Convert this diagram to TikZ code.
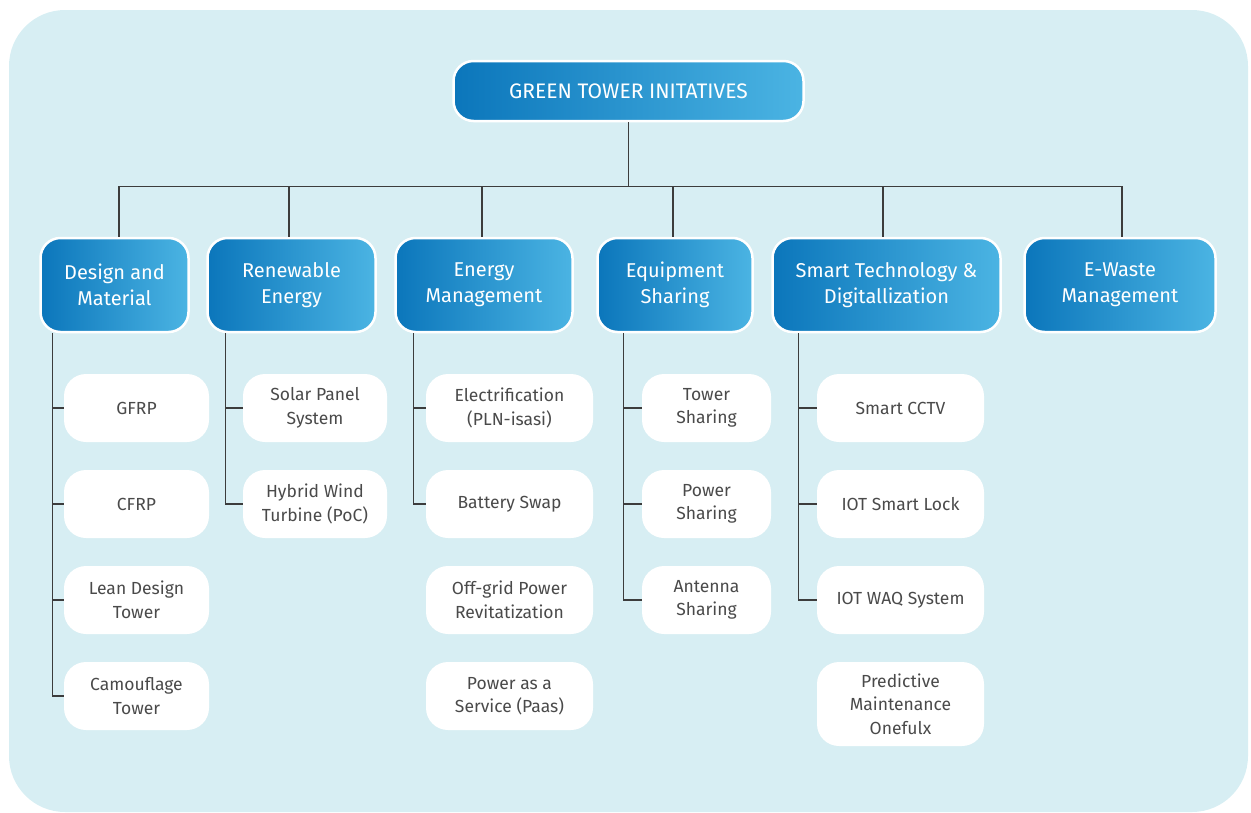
\documentclass[tikz,border=0pt]{standalone}
\usepackage{fontspec}
\setmainfont{Fira Sans}
\usetikzlibrary{calc}
\definecolor{bg}{HTML}{D7EEF3}
\definecolor{gL}{HTML}{0B76BB}
\definecolor{gR}{HTML}{4BB4E3}
\definecolor{txt}{HTML}{4A4A4A}
\definecolor{ln}{HTML}{3C3C3C}
\begin{document}
\begin{tikzpicture}[x=1pt,y=-1pt,
  topbox/.style={rounded corners=20pt, left color=gL, right color=gR, draw=white, line width=2.5pt, text=white, align=center, inner sep=0pt, font=\fontsize{21}{24}\selectfont},
  catbox/.style={topbox, minimum height=94pt, font=\fontsize{20}{26}\selectfont},
  subbox/.style={rounded corners=22pt, fill=white, text=txt, align=center, inner sep=0pt, minimum height=68pt, font=\fontsize{17.5}{23.5}\selectfont},
  conn/.style={draw=ln, line width=1.2pt}]
\useasboundingbox (0,0) rectangle (1251,812);
\fill[bg, rounded corners=56pt] (9,10) rectangle (1248,812);

\node[topbox, minimum width=350pt, minimum height=60pt] (top) at (628.5,91) {GREEN TOWER INITATIVES};

\node[catbox, minimum width=148pt] (c1) at (114.5,285) {Design and\\Material};
\node[catbox, minimum width=168pt] (c2) at (291.5,285) {Renewable\\Energy};
\node[catbox, minimum width=177pt] (c3) at (484,285) {Energy\\Management};
\node[catbox, minimum width=155pt] (c4) at (675,285) {Equipment\\Sharing};
\node[catbox, minimum width=228pt] (c5) at (886.5,285) {Smart Technology \&\\Digitallization};
\node[catbox, minimum width=191pt] (c6) at (1120,285) {E-Waste\\Management};

% column 1
\node[subbox, minimum width=145pt] (s11) at (136.5,408) {GFRP};
\node[subbox, minimum width=145pt] (s12) at (136.5,504) {CFRP};
\node[subbox, minimum width=145pt] (s13) at (136.5,600) {Lean Design\\Tower};
\node[subbox, minimum width=145pt] (s14) at (136.5,696) {Camouflage\\Tower};
% column 2
\node[subbox, minimum width=144pt] (s21) at (315,408) {Solar Panel\\System};
\node[subbox, minimum width=144pt] (s22) at (315,504) {Hybrid Wind\\Turbine (PoC)};
% column 3
\node[subbox, minimum width=167pt] (s31) at (509.5,408) {Electrification\\(PLN-isasi)};
\node[subbox, minimum width=167pt] (s32) at (509.5,504) {Battery Swap};
\node[subbox, minimum width=167pt] (s33) at (509.5,600) {Off-grid Power\\Revitatization};
\node[subbox, minimum width=167pt] (s34) at (509.5,696) {Power as a\\Service (Paas)};
% column 4
\node[subbox, minimum width=129pt] (s41) at (706.5,408) {Tower\\Sharing};
\node[subbox, minimum width=129pt] (s42) at (706.5,504) {Power\\Sharing};
\node[subbox, minimum width=129pt] (s43) at (706.5,600) {Antenna\\Sharing};
% column 5
\node[subbox, minimum width=167pt] (s51) at (900.5,408) {Smart CCTV};
\node[subbox, minimum width=167pt] (s52) at (900.5,504) {IOT Smart Lock};
\node[subbox, minimum width=167pt] (s53) at (900.5,600) {IOT WAQ System};
\node[subbox, minimum width=167pt, minimum height=84pt] (s54) at (900.5,704) {Predictive\\Maintenance\\Onefulx};

% top tree
\draw[conn] (top.south) -- ++(0,64) coordinate (bus);
\draw[conn] (bus) -| ([xshift=4.5pt]c1.north);
\draw[conn] (bus) -| ([xshift=-2.5pt]c2.north);
\draw[conn] (bus) -| ([xshift=-2pt]c3.north);
\draw[conn] (bus) -| ([xshift=-2pt]c4.north);
\draw[conn] (bus) -| ([xshift=-3.5pt]c5.north);
\draw[conn] (bus) -| ([xshift=2pt]c6.north);

% trunks
\coordinate (t1) at ([xshift=13.5pt]c1.south west);
\coordinate (t2) at ([xshift=19.5pt]c2.south west);
\coordinate (t3) at ([xshift=19.5pt]c3.south west);
\coordinate (t4) at ([xshift=27.5pt]c4.south west);
\coordinate (t5) at ([xshift=27.5pt]c5.south west);

\foreach \s in {s11,s12,s13,s14} \draw[conn] (t1) |- (\s.west);
\foreach \s in {s21,s22} \draw[conn] (t2) |- (\s.west);
\foreach \s in {s31,s32} \draw[conn] (t3) |- (\s.west);
\foreach \s in {s41,s42,s43} \draw[conn] (t4) |- (\s.west);
\foreach \s in {s51,s52,s53} \draw[conn] (t5) |- (\s.west);
\end{tikzpicture}
\end{document}
